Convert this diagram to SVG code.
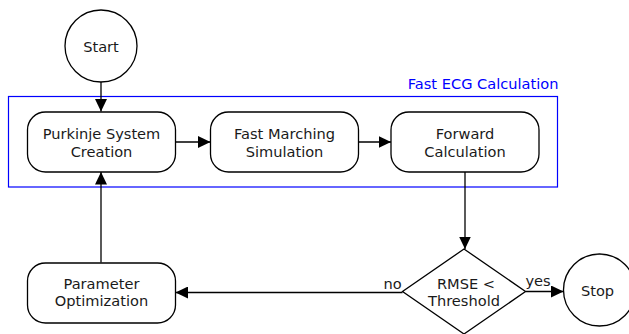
<svg xmlns="http://www.w3.org/2000/svg" width="629" height="334" viewBox="0 0 629 334">
<style>
text{font-family:"DejaVu Sans","Verdana",sans-serif;font-size:14.6px;fill:#1a1a1a;text-anchor:middle}
.n{fill:#fff;stroke:#000;stroke-width:1.3}
.c{fill:none;stroke:#000;stroke-width:1.3}
.g{fill:none;stroke:#0000ff;stroke-width:1.2}
.gl{fill:#0000ff;text-anchor:end}
</style>
<defs>
<marker id="ah" markerUnits="userSpaceOnUse" markerWidth="13" markerHeight="12" refX="12.5" refY="6" orient="auto" viewBox="0 0 13 12">
<path d="M0,0 L12.5,6 L0,12 z" fill="#000"/>
</marker>
</defs>
<g id="group-fast-ecg">
<rect class="g" x="8.5" y="96.5" width="549" height="90.5"/>
<text class="gl" x="558.5" y="88.5">Fast ECG Calculation</text>
</g>
<g id="connectors">
<path class="c" d="M101,82 L101,111.5" marker-end="url(#ah)"/>
<path class="c" d="M175.5,142 L210.5,142" marker-end="url(#ah)"/>
<path class="c" d="M358.5,142 L391,142" marker-end="url(#ah)"/>
<path class="c" d="M465,172 L465,249" marker-end="url(#ah)"/>
<path class="c" d="M525.5,291.5 L563.5,291.5" marker-end="url(#ah)"/>
<path class="c" d="M402.5,292.5 L175.5,292.5" marker-end="url(#ah)"/>
<path class="c" d="M101,262.5 L101,172" marker-end="url(#ah)"/>
<text x="392.5" y="288.5">no</text>
<text x="538" y="285.5">yes</text>
</g>
<g id="start">
<circle class="n" cx="101" cy="46" r="36"/>
<text x="101" y="51.5">Start</text>
</g>
<g id="purkinje">
<rect class="n" x="27.5" y="112" width="148" height="60" rx="18"/>
<text x="101.5" y="138.5">Purkinje System</text>
<text x="101.5" y="156.5">Creation</text>
</g>
<g id="fast-marching">
<rect class="n" x="210.5" y="112" width="148" height="60" rx="18"/>
<text x="284.5" y="138.5">Fast Marching</text>
<text x="284.5" y="156.5">Simulation</text>
</g>
<g id="forward">
<rect class="n" x="391" y="112" width="148" height="60" rx="18"/>
<text x="465" y="138.5">Forward</text>
<text x="465" y="156.5">Calculation</text>
</g>
<g id="decision">
<polygon class="n" points="464,249 525.5,291.5 464,334 402.5,291.5"/>
<text x="466" y="288.5">RMSE &lt;</text>
<text x="464" y="306">Threshold</text>
</g>
<g id="parameter">
<rect class="n" x="27.5" y="263" width="148" height="60" rx="18"/>
<text x="101.5" y="288.5">Parameter</text>
<text x="101.5" y="306">Optimization</text>
</g>
<g id="stop">
<circle class="n" cx="599.5" cy="290" r="36"/>
<text x="597.5" y="295.5">Stop</text>
</g>
</svg>
